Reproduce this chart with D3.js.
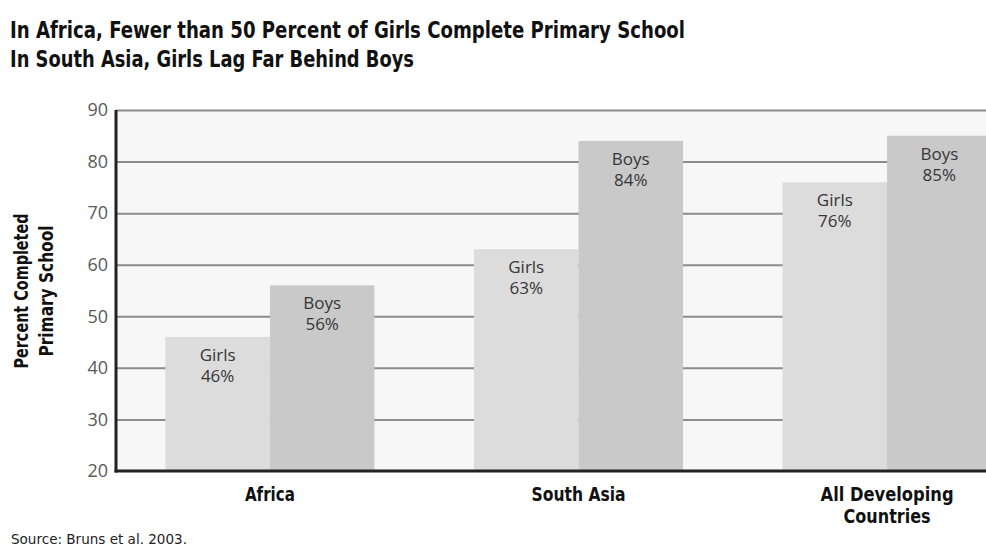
<!DOCTYPE html>
<html>
<head>
<meta charset="utf-8">
<script src="https://cdn.jsdelivr.net/npm/d3@7"></script>
<style>
  body { margin: 0; background: #fff; }
  svg { display: block; }
  .cond { font-family: "Liberation Sans Narrow", "DejaVu Sans Condensed", "Arial Narrow", sans-serif; }
  .plain { font-family: "Open Sans", "Noto Sans", sans-serif; }
</style>
</head>
<body>
<div id="chart"></div>
<script>
const titleLines = ['In Africa, Fewer than 50 Percent of Girls Complete Primary School', 'In South Asia, Girls Lag Far Behind Boys'];
const categories = ['Africa', 'South Asia', 'All Developing Countries'];
const categoryLines = [['Africa'], ['South Asia'], ['All Developing', 'Countries']];
const series = ['Girls', 'Boys'];
const girls = [46, 63, 76];
const boys = [56, 84, 85];
const yTicks = [20, 30, 40, 50, 60, 70, 80, 90];
const yLabel = ['Percent Completed', 'Primary School'];
const source = 'Source: Bruns et al. 2003.';

const W = 986, H = 547;
const plotLeft = 116, plotTop = 110, plotBottom = 471;

// squeeze condensed text to the width seen in the reference
function fit(sel, w) {
  sel.attr('textLength', w).attr('lengthAdjust', 'spacingAndGlyphs');
}

const svg = d3.select('#chart').append('svg')
  .attr('width', W).attr('height', H);

const x = d3.scaleBand()
  .domain(categories)
  .range([plotLeft, 1041])
  .paddingInner(0.3225)
  .paddingOuter(0.16);

const x1 = d3.scaleBand()
  .domain(series)
  .range([0, x.bandwidth()]);

const y = d3.scaleLinear()
  .domain([20, 90])
  .range([plotBottom, plotTop]);

const color = d3.scaleOrdinal().domain(series).range(['#dcdcdc', '#c9c9c9']);

// plot background
svg.append('rect')
  .attr('x', plotLeft).attr('y', plotTop)
  .attr('width', W - plotLeft).attr('height', plotBottom - plotTop)
  .attr('fill', '#f7f7f7');

// gridlines
const grid = svg.append('g')
  .attr('transform', `translate(${plotLeft},0)`)
  .call(d3.axisLeft(y).tickValues(yTicks.slice(1)).tickSize(-(W - plotLeft)).tickFormat(''));
grid.select('.domain').remove();
grid.selectAll('line').attr('stroke', '#8c8c8c').attr('stroke-width', 2);

// bars
const rows = categories.map((c, i) => ({ cat: c, values: [
  { key: 'Girls', v: girls[i] }, { key: 'Boys', v: boys[i] }] }));

const groups = svg.selectAll('.grp')
  .data(rows).enter().append('g')
  .attr('class', 'grp')
  .attr('transform', d => `translate(${x(d.cat)},0)`);

groups.selectAll('rect')
  .data(d => d.values).enter().append('rect')
  .attr('x', d => x1(d.key))
  .attr('y', d => y(d.v))
  .attr('width', x1.bandwidth())
  .attr('height', d => plotBottom - y(d.v))
  .attr('fill', d => color(d.key));

const lab = groups.selectAll('.lab')
  .data(d => d.values).enter().append('g')
  .attr('class', 'lab plain')
  .attr('text-anchor', 'middle')
  .attr('font-size', 17)
  .attr('fill', '#363636');
lab.append('text')
  .attr('x', d => x1(d.key) + x1.bandwidth() / 2)
  .attr('y', d => y(d.v) + 24)
  .text(d => d.key);
lab.append('text')
  .attr('x', d => x1(d.key) + x1.bandwidth() / 2)
  .attr('y', d => y(d.v) + 45)
  .text(d => d.v + '%');

// y axis
const yAxis = svg.append('g')
  .attr('transform', `translate(${plotLeft},0)`)
  .call(d3.axisLeft(y).tickValues(yTicks).tickSize(0).tickPadding(8));
yAxis.select('.domain').remove();
yAxis.selectAll('text')
  .attr('class', 'plain')
  .attr('font-size', 18)
  .attr('fill', '#5a5a5a');

svg.append('line')
  .attr('x1', plotLeft).attr('x2', plotLeft)
  .attr('y1', plotTop).attr('y2', plotBottom + 1.5)
  .attr('stroke', '#222').attr('stroke-width', 3);
svg.append('line')
  .attr('x1', plotLeft - 1.5).attr('x2', W)
  .attr('y1', plotBottom).attr('y2', plotBottom)
  .attr('stroke', '#222').attr('stroke-width', 3);

// category labels
const catW = { 'Africa': 50, 'South Asia': 94, 'All Developing': 133, 'Countries': 87 };
const cl = svg.selectAll('.cat')
  .data(categories).enter().append('g')
  .attr('class', 'cat cond')
  .attr('text-anchor', 'middle')
  .attr('font-size', 19)
  .attr('font-weight', 'bold')
  .attr('fill', '#111');
cl.selectAll('text')
  .data((d, i) => categoryLines[i].map(t => ({ t, c: d })))
  .enter().append('text')
  .attr('x', d => x(d.c) + x.bandwidth() / 2)
  .attr('y', (d, j) => 501 + j * 22)
  .text(d => d.t)
  .each(function (d) { fit(d3.select(this), catW[d.t]); });

// y label
const yLabW = [155, 131];
svg.append('g')
  .attr('class', 'cond')
  .attr('transform', 'translate(0,291) rotate(-90)')
  .attr('text-anchor', 'middle')
  .attr('font-size', 19)
  .attr('font-weight', 'bold')
  .attr('fill', '#111')
  .selectAll('text').data(yLabel).enter().append('text')
  .attr('x', 0)
  .attr('y', (d, i) => 28 + i * 25)
  .text(d => d)
  .each(function (d, i) { fit(d3.select(this), yLabW[i]); });

// title
const tw = [675, 404];
svg.selectAll('.title')
  .data(titleLines).enter().append('text')
  .attr('class', 'title cond')
  .attr('x', 10)
  .attr('y', (d, i) => 38 + i * 29)
  .attr('font-size', 23)
  .attr('font-weight', 'bold')
  .attr('fill', '#111')
  .text(d => d)
  .each(function (d, i) { fit(d3.select(this), tw[i]); });

svg.append('text')
  .attr('class', 'cond')
  .attr('x', 11).attr('y', 544)
  .attr('font-size', 14)
  .attr('fill', '#222')
  .text(source)
  .call(fit, 176);
</script>
</body>
</html>
